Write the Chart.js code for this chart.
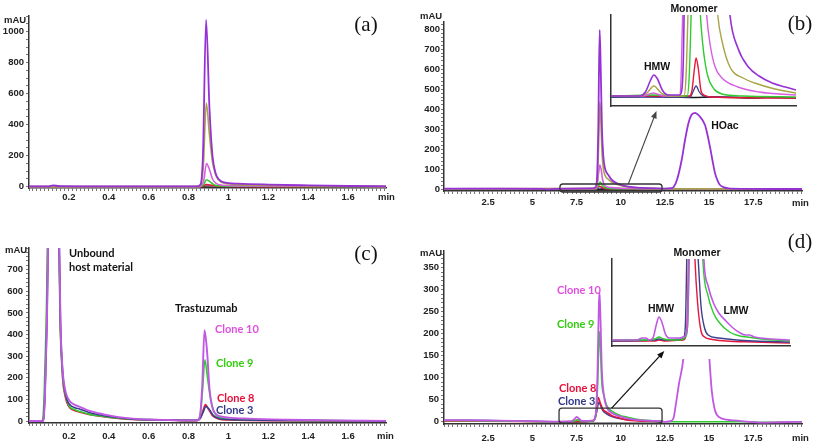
<!DOCTYPE html>
<html>
<head>
<meta charset="utf-8">
<script src="https://cdn.jsdelivr.net/npm/chart.js@4.4.0/dist/chart.umd.min.js"></script>
<style>
  body { margin: 0; width: 817px; height: 445px; position: relative; overflow: hidden; background: #fff; font-family: "Liberation Sans", Arial, sans-serif; }
  .box { position: absolute; }
  .inset canvas { background: #fff; }
  #overlay { position: absolute; left: 0; top: 0; pointer-events: none; }
  .t { position: absolute; white-space: nowrap; line-height: 1; color: #111; }
  .c { transform: translate(-50%, -50%); }
  .l { transform: translateY(-50%); }
  .tag { font-family: "Liberation Serif", serif; font-size: 21px; }
  .unit { font-size: 9.5px; font-weight: bold; color: #222; }
  .lab { font-size: 10.5px; font-weight: bold; }
  .cl { font-family: Lato, sans-serif; font-size: 11px; font-weight: bold; }
</style>
</head>
<body>
<div class="box" style="left:0;top:0"><canvas id="chartA" width="410" height="220"></canvas></div>
<div class="box" style="left:405px;top:0"><canvas id="chartB" width="412" height="220"></canvas></div>
<div class="box" style="left:0;top:220px"><canvas id="chartC" width="410" height="225"></canvas></div>
<div class="box" style="left:405px;top:220px"><canvas id="chartD" width="412" height="225"></canvas></div>
<div class="box inset" style="left:609px;top:14px"><canvas id="insetB" width="190" height="95"></canvas></div>
<div class="box inset" style="left:610px;top:252px"><canvas id="insetD" width="182" height="107"></canvas></div>
<canvas id="overlay" width="817" height="445"></canvas>

<div class="t c tag" style="left:366px;top:24px">(a)</div>
<div class="t c tag" style="left:800px;top:23px">(b)</div>
<div class="t c tag" style="left:366px;top:253px">(c)</div>
<div class="t c tag" style="left:800px;top:241px">(d)</div>

<div class="t l unit" style="left:4px;top:20px">mAU</div>
<div class="t l unit" style="left:420px;top:16px">mAU</div>
<div class="t l unit" style="left:5px;top:250px">mAU</div>
<div class="t l unit" style="left:420px;top:253px">mAU</div>
<div class="t l unit" style="left:378px;top:197px">min</div>
<div class="t l unit" style="left:792px;top:203px">min</div>
<div class="t l unit" style="left:377px;top:436px">min</div>
<div class="t l unit" style="left:792px;top:438px">min</div>

<div class="t c lab" style="left:694px;top:8px">Monomer</div>
<div class="t c lab" style="left:657px;top:66px">HMW</div>
<div class="t c lab" style="left:725px;top:125px">HOac</div>
<div class="t c lab" style="left:697px;top:252px">Monomer</div>
<div class="t c lab" style="left:661px;top:308px">HMW</div>
<div class="t c lab" style="left:736px;top:310px">LMW</div>

<div class="t l cl" style="left:69px;top:252px">Unbound</div>
<div class="t l cl" style="left:69px;top:266px">host material</div>
<div class="t l cl" style="left:175px;top:307px">Trastuzumab</div>
<div class="t l cl" style="left:215px;top:328px;color:#e050e0">Clone 10</div>
<div class="t l cl" style="left:216px;top:362px;color:#33cc11">Clone 9</div>
<div class="t l cl" style="left:217px;top:397px;color:#e8103a">Clone 8</div>
<div class="t l cl" style="left:216px;top:409px;color:#333a8a">Clone 3</div>
<div class="t l cl" style="left:557px;top:289px;color:#e050e0">Clone 10</div>
<div class="t l cl" style="left:557px;top:323px;color:#33cc11">Clone 9</div>
<div class="t l cl" style="left:559px;top:387px;color:#e8103a">Clone 8</div>
<div class="t l cl" style="left:558px;top:400px;color:#333a8a">Clone 3</div>

<script>
// axis ticks
const A_XTICKS = [0.2, 0.4, 0.6, 0.8, 1, 1.2, 1.4, 1.6];
const A_YTICKS = [0, 200, 400, 600, 800, 1000];
const B_XTICKS = [2.5, 5, 7.5, 10, 12.5, 15, 17.5];
const B_YTICKS = [0, 100, 200, 300, 400, 500, 600, 700, 800];
const C_YTICKS = [0, 100, 200, 300, 400, 500, 600, 700];
const D_YTICKS = [0, 50, 100, 150, 200, 250, 300, 350];

const PURPLE = '#9631d6', ORCHID = '#d65ee0', OLIVE = '#a8a545', GREEN = '#2ecc2e';
const RED = '#e8173c', NAVY = '#3a4290', BLACK = '#1a1a1a', CLONE10 = '#c058e4';

// (a) retention time (min), mAU
const aPurple = [[0,3],[0.1,3],[0.12,9],[0.15,4],[0.3,3],[0.6,2],[0.84,2],[0.86,15],[0.872,200],[0.888,1075],[0.905,500],[0.92,200],[0.935,90],[0.95,50],[0.98,28],[1.05,20],[1.2,14],[1.4,9],[1.6,5],[1.79,3]];
const aOlive = [[0,1],[0.84,1],[0.86,10],[0.874,130],[0.889,540],[0.905,330],[0.92,160],[0.935,80],[0.95,45],[0.98,22],[1.05,14],[1.2,9],[1.4,6],[1.79,2]];
const aOrchid = [[0,1],[0.85,1],[0.876,40],[0.89,150],[0.905,110],[0.92,50],[0.94,20],[0.97,10],[1.1,5],[1.4,3],[1.79,1]];
const aGreen = [[0,0],[0.85,0],[0.876,15],[0.89,45],[0.91,30],[0.93,12],[0.96,5],[1.1,3],[1.79,0]];
const aRed = [[0,0],[0.86,0],[0.89,15],[0.92,8],[0.96,3],[1.2,1],[1.79,1]];
const aBlack = [[0,0],[0.85,0],[0.87,4],[0.95,6],[1.2,3],[1.79,0]];

// (b)
const bPurple = [[0,2],[2.7,2],[5.5,1],[5.9,-2],[6.3,1],[8.4,3],[8.55,8],[8.65,40],[8.73,300],[8.81,795],[8.87,600],[8.94,300],[9.02,160],[9.12,100],[9.3,70],[9.5,45],[9.8,28],[10.2,16],[10.8,8],[11.5,4],[12.5,2],[12.85,4],[13.0,10],[13.2,50],[13.45,145],[13.65,250],[13.83,328],[14.0,370],[14.2,381],[14.45,365],[14.77,320],[14.9,275],[15.05,212],[15.2,140],[15.34,78],[15.5,38],[15.62,20],[15.85,8],[16.1,3],[17,1],[18.5,0],[20.26,0]];
const bOlive = [[0,1],[8.4,2],[8.58,8],[8.68,40],[8.76,250],[8.82,435],[8.88,330],[8.95,170],[9.03,95],[9.13,65],[9.3,48],[9.5,33],[9.8,22],[10.2,13],[10.8,7],[11.5,3],[12.3,1],[20.26,0]];
const bOrchid = [[0,1],[8.5,2],[8.65,10],[8.75,80],[8.82,120],[8.9,95],[8.97,50],[9.05,25],[9.2,12],[9.5,7],[10,4],[11,2],[12.5,1],[20.26,0]];
const bGreen = [[0,0],[8.6,1],[8.75,20],[8.84,35],[8.95,20],[9.05,10],[9.2,5],[9.6,2],[20.26,0]];
const bRed = [[0,0],[8.6,0],[8.8,14],[8.9,10],[9.1,3],[9.5,1],[20.26,0]];
const bNavy = [[0,-1],[8.6,-1],[8.82,5],[9.0,1],[12,-1],[17.2,-2],[18.6,-2],[20.26,-1]];
const bBlack = [[0,-1],[6.5,-2],[12.3,-2],[13,-1],[20.26,-1]];

// (b) inset, zoom of 7.5-11 min
const ibPurple = [[7.5,10],[8.05,10],[8.15,14],[8.25,26],[8.31,31],[8.38,27],[8.47,16],[8.58,11],[8.8,11],[8.84,16],[8.87,50],[8.9,150],[9.2,900],[9.6,200],[9.75,91],[9.9,58],[10.1,39],[10.3,30],[10.55,23],[10.8,19],[11.0,16]];
const ibOlive = [[7.5,10],[8.05,10],[8.18,13],[8.31,20],[8.45,13],[8.6,10],[8.88,10],[8.92,30],[8.96,100],[9.2,600],[9.45,150],[9.52,91],[9.6,65],[9.75,39],[10.0,28],[10.22,23],[10.6,17],[11.0,13]];
const ibOrchid = [[7.5,10],[8.1,10],[8.3,13],[8.5,10],[8.8,10],[8.82,20],[8.85,80],[9.0,400],[9.2,200],[9.31,91],[9.38,60],[9.47,39],[9.6,28],[9.9,19],[10.3,14],[11.0,11]];
const ibGreen = [[7.5,10],[8.3,11],[8.94,10],[8.98,30],[9.02,100],[9.1,300],[9.16,120],[9.19,91],[9.25,55],[9.33,30],[9.45,17],[9.6,12],[10.0,10],[11.0,9]];
const ibRed = [[7.5,10],[8.98,10],[9.03,15],[9.08,38],[9.11,48],[9.15,38],[9.2,16],[9.26,11],[9.4,9],[11.0,8]];
const ibNavy = [[7.5,9],[9.0,9],[9.05,14],[9.11,20],[9.17,14],[9.25,10],[9.5,9],[11,8]];
const ibBlack = [[7.5,9],[8.2,9.5],[8.6,9],[9.0,8.5],[9.5,9],[10.2,8],[10.6,9],[11,8]];

// (c)
const cClone10 = [[0,0],[0.068,0],[0.076,40],[0.084,250],[0.095,800],[0.11,3000],[0.13,3000],[0.14,2000],[0.152,800],[0.158,450],[0.164,300],[0.172,200],[0.18,150],[0.19,115],[0.205,91],[0.23,75],[0.255,66],[0.3,48],[0.356,35],[0.4,26],[0.45,18],[0.52,11],[0.6,7],[0.7,5],[0.84,3],[0.855,15],[0.868,150],[0.88,420],[0.893,320],[0.905,150],[0.92,60],[0.94,30],[0.97,20],[1.0,16],[1.1,11],[1.3,6],[1.5,3],[1.79,1]];
const cClone9 = [[0,0],[0.065,0],[0.072,40],[0.08,250],[0.092,800],[0.11,3000],[0.13,3000],[0.14,2000],[0.15,800],[0.156,450],[0.162,300],[0.17,190],[0.18,130],[0.19,95],[0.205,65],[0.23,52],[0.255,44],[0.3,32],[0.356,23],[0.45,13],[0.52,9],[0.7,5],[0.84,3],[0.857,20],[0.87,140],[0.882,283],[0.895,200],[0.91,105],[0.925,50],[0.94,25],[0.97,13],[1.05,7],[1.3,3],[1.79,1]];
const cClone8 = [[0,0],[0.067,0],[0.075,40],[0.083,250],[0.094,800],[0.11,3000],[0.13,3000],[0.14,2000],[0.151,800],[0.157,450],[0.163,300],[0.17,180],[0.18,120],[0.19,85],[0.205,61],[0.23,48],[0.255,41],[0.3,30],[0.356,22],[0.45,12],[0.52,7],[0.7,4],[0.84,2],[0.86,15],[0.873,50],[0.885,76],[0.9,55],[0.92,25],[0.95,10],[1.0,5],[1.3,2],[1.79,0]];
const cClone3 = [[0,0],[0.068,0],[0.076,40],[0.084,250],[0.095,800],[0.11,3000],[0.13,3000],[0.14,2000],[0.152,800],[0.158,450],[0.164,300],[0.172,190],[0.18,140],[0.19,100],[0.205,75],[0.23,62],[0.255,55],[0.3,40],[0.356,28],[0.45,15],[0.52,9],[0.7,5],[0.84,3],[0.86,15],[0.875,45],[0.887,68],[0.905,52],[0.925,25],[0.95,12],[1.0,7],[1.3,3],[1.79,1]];

// (d)
const dClone10 = [[0,4],[1.5,3.5],[3,2.5],[5,1.5],[6.3,0.5],[7.2,1],[7.38,6],[7.5,11],[7.65,7],[7.8,2],[8.2,2],[8.45,3],[8.58,15],[8.68,100],[8.76,260],[8.8,295],[8.86,230],[8.93,120],[9.05,60],[9.2,34],[9.5,20],[10,12],[10.34,8],[11,4],[12,2],[12.5,0],[12.85,2],[13.0,10],[13.1,34],[13.3,87],[13.54,142],[13.9,330],[14.2,380],[14.6,330],[14.85,230],[15.02,142],[15.15,72],[15.33,27],[15.6,10],[16.0,5],[16.4,3],[17,1],[18,-2],[19,-1],[20.26,0]];
const dClone9 = [[0,3],[3,2],[6.3,0],[7.4,2],[7.55,5],[7.7,2],[8.4,2],[8.58,12],[8.7,90],[8.79,205],[8.86,160],[8.93,90],[9.05,60],[9.2,38],[9.5,24],[10,14],[10.34,11],[11,5],[12,2],[12.5,0],[17,0],[18,-1],[20.26,0]];
const dClone8 = [[0,2],[6.3,0],[8.45,2],[8.6,15],[8.73,55],[8.85,42],[9.0,28],[9.2,22],[9.5,14],[10,8],[10.34,4],[11,2],[12,1],[12.4,0]];
const dClone3 = [[0,3],[2.5,3],[6.3,0],[8.45,2],[8.62,20],[8.77,45],[8.88,35],[9.0,25],[9.2,18],[9.5,12],[10,7],[11,3],[12,1],[12.4,0]];

// (d) inset, zoom of 7-12 min
const idClone10 = [[7.0,6],[7.7,6],[7.85,8],[7.95,8],[8.05,6],[8.15,8],[8.25,22],[8.32,29],[8.4,24],[8.5,12],[8.6,8],[8.9,8],[9.05,10],[9.12,20],[9.16,87],[9.25,300],[9.4,300],[9.58,87],[9.7,60],[9.85,43],[10.0,33],[10.2,25],[10.4,18],[10.6,13],[10.75,11],[10.85,11],[11.0,9],[11.5,7],[12.0,6]];
const idClone9 = [[7.0,6],[7.9,6],[8.2,7],[8.32,9],[8.45,7],[8.9,6],[9.08,10],[9.13,25],[9.17,87],[9.3,300],[9.45,200],[9.55,87],[9.7,50],[9.85,33],[10.0,24],[10.3,14],[10.6,10],[10.8,9],[11.2,7],[12.0,5]];
const idClone8 = [[7.0,5],[8.2,5],[8.32,6],[8.5,5],[9.0,6],[9.1,15],[9.15,87],[9.22,250],[9.3,120],[9.33,87],[9.4,45],[9.5,15],[9.6,9],[9.75,7],[10.2,5],[11,4],[12,3]];
const idClone3 = [[7.0,5],[8.2,6],[8.32,7],[8.5,6],[9.0,7],[9.06,20],[9.1,87],[9.2,300],[9.35,120],[9.42,87],[9.5,40],[9.6,18],[9.7,11],[10.0,8],[10.5,6],[11,5],[12,4]];

Chart.defaults.font.family = '"Liberation Sans", Arial, sans-serif';

function minorTicks(min, max, step) {
    const out = [];
    for (let i = Math.ceil(min / step - 1e-9); i * step <= max + 1e-9; i++) {
        out.push(+(i * step).toFixed(4));
    }
    return out;
}

function mainAxis(min, max, major, minorStep, size, pad, isX) {
    return {
        type: 'linear', min: min, max: max,
        border: { display: true, color: '#333', width: 1.5 },
        grid: { display: true, drawOnChartArea: false, drawTicks: true, tickLength: 3, color: '#777' },
        ticks: {
            autoSkip: false, maxRotation: 0, minRotation: 0, padding: pad,
            color: '#222', font: { size: 9.5, weight: 'bold' },
            callback: function(v) {
                const m = major.find(t => Math.abs(t - v) < 1e-6);
                return m === undefined ? '' : String(m);
            }
        },
        afterBuildTicks: function(s) {
            s.ticks = minorTicks(min, max, minorStep).map(v => ({ value: v }));
        },
        afterFit: function(s) {
            if (isX) s.height = size; else s.width = size;
        }
    };
}

function insetAxis(min, max, isX) {
    return {
        type: 'linear', min: min, max: max,
        border: { display: true, color: '#333', width: 1.5 },
        grid: { display: false },
        ticks: { display: false },
        afterFit: function(s) {
            if (isX) s.height = 0; else s.width = 0;
        }
    };
}

// rectangle marking the zoomed region
const zoomBox = {
    id: 'zoomBox',
    afterDatasetsDraw(chart, args, opts) {
        const x = chart.scales.x, y = chart.scales.y, ctx = chart.ctx;
        const x0 = x.getPixelForValue(opts.x0), x1 = x.getPixelForValue(opts.x1);
        const y0 = y.getPixelForValue(opts.y1), y1 = y.getPixelForValue(opts.y0);
        ctx.save();
        ctx.strokeStyle = '#333';
        ctx.lineWidth = 1.3;
        ctx.beginPath();
        ctx.roundRect(x0, y0, x1 - x0, y1 - y0, 3);
        ctx.stroke();
        ctx.restore();
    }
};

function makeChart(id, series, xAxis, yAxis, pad, box) {
    return new Chart(document.getElementById(id), {
        type: 'line',
        data: {
            datasets: series.map(s => ({
                data: s[0].map(p => ({ x: p[0], y: p[1] })),
                borderColor: s[1],
                borderWidth: s[2] || 1.6,
                pointRadius: 0,
                cubicInterpolationMode: 'monotone',
                fill: false
            }))
        },
        options: {
            responsive: false, animation: false, devicePixelRatio: 1, events: [],
            layout: { padding: pad },
            plugins: { legend: { display: false }, tooltip: { enabled: false }, zoomBox: box || false },
            scales: { x: xAxis, y: yAxis }
        },
        plugins: [zoomBox]
    });
}

const chartA = makeChart('chartA',
    [[aPurple, PURPLE, 1.8], [aOlive, OLIVE], [aOrchid, ORCHID], [aGreen, GREEN], [aRed, RED], [aBlack, BLACK, 1.2]],
    mainAxis(0, 1.79, A_XTICKS, 0.02, 32, 1, true),
    mainAxis(-8, 1100, A_YTICKS, 50, 29, 2, false),
    { left: 0, top: 16, right: 24, bottom: 0 });

const chartB = makeChart('chartB',
    [[bPurple, PURPLE, 1.8], [bOlive, OLIVE], [bOrchid, ORCHID], [bGreen, GREEN], [bRed, RED], [bNavy, NAVY, 1.2], [bBlack, BLACK, 1.2]],
    mainAxis(0, 20.26, B_XTICKS, 0.25, 29, 3, true),
    mainAxis(-10, 835, B_YTICKS, 20, 39, 1, false),
    { left: 0, top: 22, right: 15, bottom: 0 },
    { x0: 6.56, x1: 12.34, y0: -15, y1: 25 });

const chartC = makeChart('chartC',
    [[cClone10, CLONE10, 1.9], [cClone3, NAVY], [cClone9, GREEN], [cClone8, RED]],
    mainAxis(0, 1.79, A_XTICKS, 0.02, 22, 4.5, true),
    mainAxis(-9, 800, C_YTICKS, 20, 29, 3, false),
    { left: 0, top: 28, right: 24, bottom: 0 });

const chartD = makeChart('chartD',
    [[dClone10, CLONE10, 1.8], [dClone9, GREEN], [dClone8, RED], [dClone3, NAVY]],
    mainAxis(0, 20.26, B_XTICKS, 0.25, 21, 5.5, true),
    mainAxis(-5, 388, D_YTICKS, 10, 39, 2, false),
    { left: 0, top: 31, right: 15, bottom: 0 },
    { x0: 6.51, x1: 12.34, y0: -3, y1: 31 });

const insetB = makeChart('insetB',
    [[ibPurple, PURPLE, 1.6], [ibOlive, OLIVE, 1.4], [ibOrchid, ORCHID, 1.4], [ibGreen, GREEN, 1.4], [ibRed, RED, 1.4], [ibNavy, NAVY, 1.3], [ibBlack, BLACK, 1.3]],
    insetAxis(7.5, 11, true), insetAxis(0, 91, false),
    { left: 2, top: 1, right: 3, bottom: 3 });

const insetD = makeChart('insetD',
    [[idClone10, CLONE10, 1.6], [idClone9, GREEN, 1.4], [idClone3, NAVY, 1.4], [idClone8, RED, 1.4]],
    insetAxis(7, 12, true), insetAxis(0, 87, false),
    { left: 2, top: 7, right: 2, bottom: 13 });

// arrows from the boxes to the insets
function arrow(ctx, x0, y0, x1, y1, color, w) {
    const ang = Math.atan2(y1 - y0, x1 - x0), L = 8;
    ctx.strokeStyle = color;
    ctx.fillStyle = color;
    ctx.lineWidth = w;
    ctx.beginPath();
    ctx.moveTo(x0, y0);
    ctx.lineTo(x1 - Math.cos(ang) * L * 0.7, y1 - Math.sin(ang) * L * 0.7);
    ctx.stroke();
    ctx.beginPath();
    ctx.moveTo(x1, y1);
    ctx.lineTo(x1 - L * Math.cos(ang - 0.38), y1 - L * Math.sin(ang - 0.38));
    ctx.lineTo(x1 - L * Math.cos(ang + 0.38), y1 - L * Math.sin(ang + 0.38));
    ctx.closePath();
    ctx.fill();
}

const octx = document.getElementById('overlay').getContext('2d');
arrow(octx,
    405 + chartB.scales.x.getPixelForValue(10.43), chartB.scales.y.getPixelForValue(25),
    609 + insetB.scales.x.getPixelForValue(8.36), 14 + insetB.chartArea.bottom + 5,
    '#444', 1.1);
arrow(octx,
    405 + chartD.scales.x.getPixelForValue(9.49), 220 + chartD.scales.y.getPixelForValue(31),
    610 + insetD.scales.x.getPixelForValue(8.47), 252 + insetD.chartArea.bottom + 5,
    '#111', 1.3);
</script>
</body>
</html>
